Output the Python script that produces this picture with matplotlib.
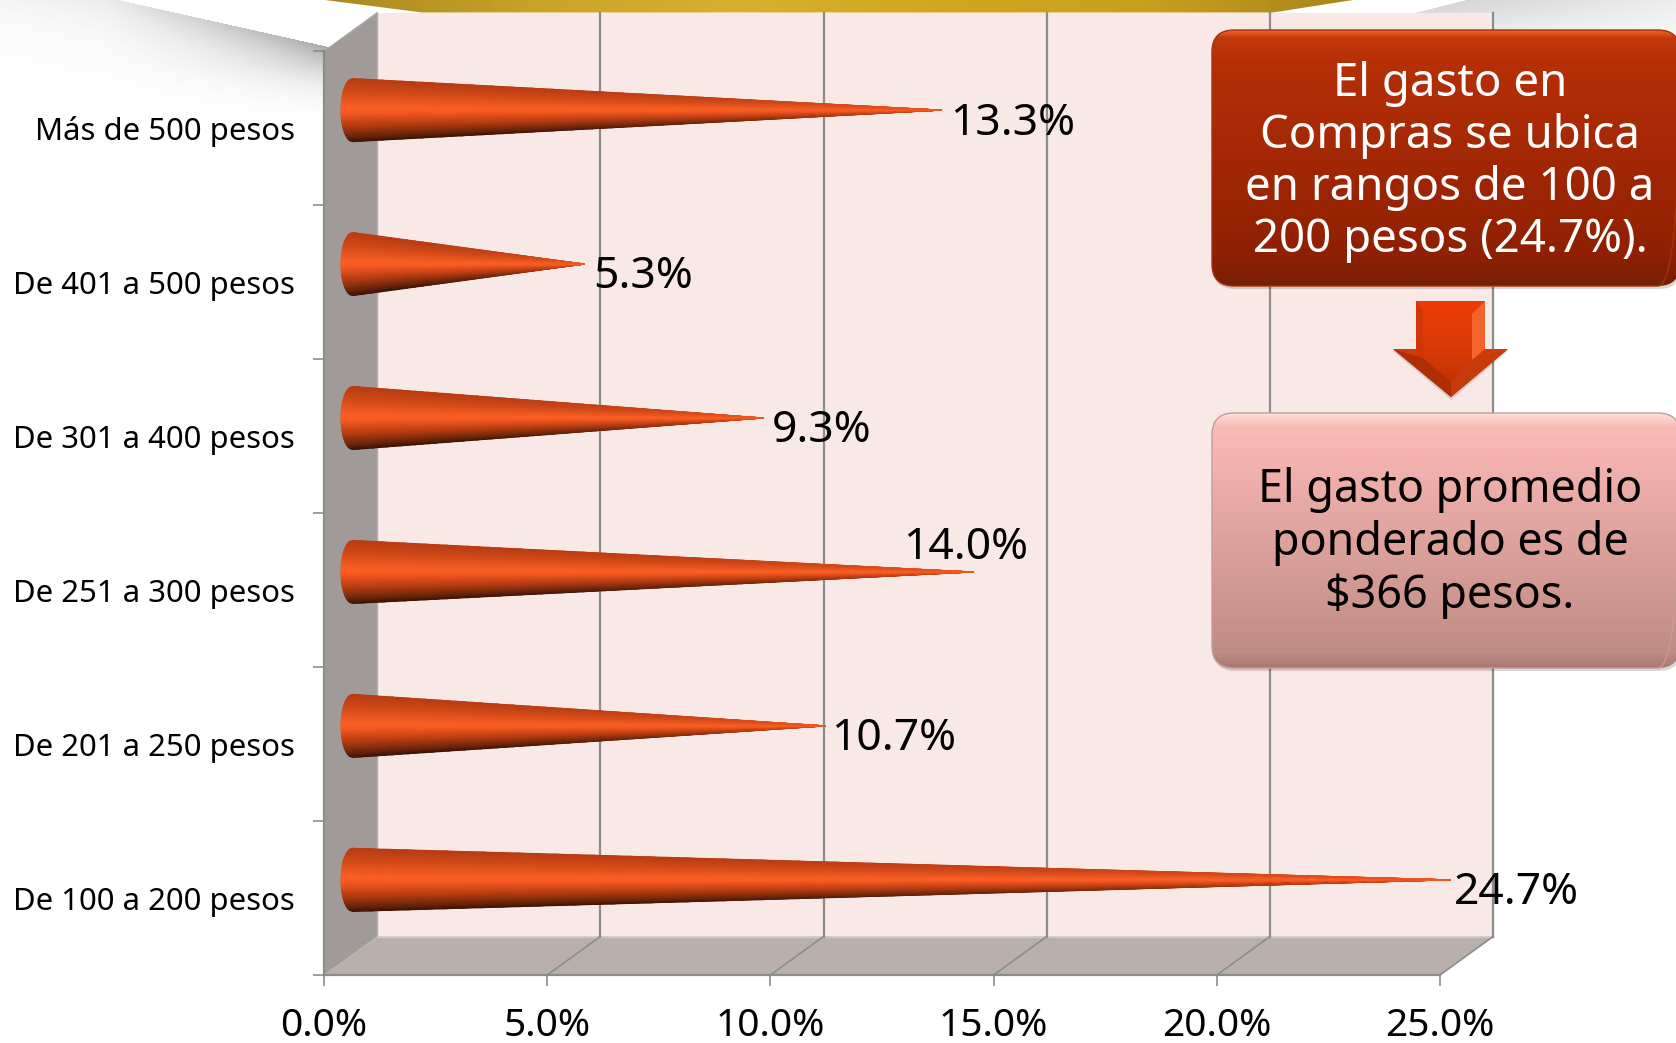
import numpy as np
import matplotlib
matplotlib.use("Agg")
import matplotlib.pyplot as plt
from matplotlib.colors import LinearSegmentedColormap
from matplotlib.patches import FancyBboxPatch, Polygon

categories = ["De 100 a 200 pesos", "De 201 a 250 pesos", "De 251 a 300 pesos",
              "De 301 a 400 pesos", "De 401 a 500 pesos", "Más de 500 pesos"]
values = [24.7, 10.7, 14.0, 9.3, 5.3, 13.3]
value_labels = ["24.7%", "10.7%", "14.0%", "9.3%", "5.3%", "13.3%"]
x_ticks = [0, 5, 10, 15, 20, 25]
x_tick_labels = ["0.0%", "5.0%", "10.0%", "15.0%", "20.0%", "25.0%"]
box1_text = "El gasto en\nCompras se ubica\nen rangos de 100 a\n200 pesos (24.7%)."
box2_text = "El gasto promedio\nponderado es de\n$366 pesos."

W, H = 1676, 1043
FONT = "Noto Sans"
plt.rcParams["font.family"] = [FONT, "DejaVu Sans"]
fig = plt.figure(figsize=(W / 100, H / 100), dpi=100, facecolor="white")

# ---- page decoration, in pixel coordinates
bg = fig.add_axes([0, 0, 1, 1], zorder=0)
bg.set_xlim(0, W); bg.set_ylim(H, 0); bg.axis("off")
yy, xx = np.mgrid[0:130, 0:W]
# left swoosh shadow
d = yy - (xx - 120) * (49 / 219)
a = np.where(d >= 0, 0.62 * np.exp(-d / 34), 0) * np.clip(xx / 340, 0.3, 1) ** 1.2 * np.clip((125 - yy) / 60, 0, 1)
a[xx > 345] = 0
img = np.ones((130, W, 4)); img[..., :3] = 0.42; img[..., 3] = a
bg.imshow(img, extent=(0, W, 130, 0), aspect="auto", zorder=1, interpolation="bilinear")
# right swoosh shadow
d2 = yy + (xx - 1464) * (13 / 53)
a2 = np.where(d2 >= 0, 1, 0) * (0.34 - 0.2 * np.clip((xx - 1440) / 236, 0, 1)) * np.clip(1 - yy / 60, 0, 1)
a2[(yy > 12) & (xx < 1493)] = 0
img2 = np.ones((130, W, 4)); img2[..., :3] = 0.5; img2[..., 3] = a2
bg.imshow(img2, extent=(0, W, 130, 0), aspect="auto", zorder=1, interpolation="bilinear")
bg.set_xlim(0, W); bg.set_ylim(H, 0)
# gold band
gold = LinearSegmentedColormap.from_list("g", ["#a88a1e", "#c9a228", "#d8b02e", "#d2a61c", "#c99f1c", "#a8841c"])
gi = bg.imshow(np.linspace(0, 1, 256)[None, :], extent=(325, 1353, 13, 0), aspect="auto", cmap=gold, zorder=2)
gp = Polygon([(325, 0), (1353, 0), (1273, 12.5), (422, 12.5)], closed=True, fc="none", ec="none", transform=bg.transData)
bg.add_patch(gp); gi.set_clip_path(gp)
bg.set_xlim(0, W); bg.set_ylim(H, 0)

# ---- chart, front plane of the box: 0..25 % and 0..6 categories
ax = fig.add_axes([324 / W, 1 - 975 / H, (1440 - 324) / W, (975 - 51.3) / H], zorder=1)
ax.patch.set_alpha(0)
ax.set_xlim(0, 25); ax.set_ylim(0, 6)
DX, DY = 1.19, 0.25
ax.add_patch(Polygon([(DX, DY), (25 + DX, DY), (25 + DX, 6 + DY), (DX, 6 + DY)], fc="#f8e9e7", ec="none", zorder=1, clip_on=False))
ax.add_patch(Polygon([(0, 0), (25, 0), (25 + DX, DY), (DX, DY)], fc="#b9afab", ec="none", zorder=1, clip_on=False))
ax.add_patch(Polygon([(0, 0), (DX, DY), (DX, 6 + DY), (0, 6)], fc="#a09a98", ec="none", zorder=1, clip_on=False))
GRID = "#8c8c8c"
ax.plot([DX, DX], [DY, 6 + DY], color="#b5b0ae", lw=1, zorder=2, clip_on=False)
ax.plot([DX, 25 + DX], [DY, DY], color="#cfc8c5", lw=1, zorder=2, clip_on=False)
ax.plot([0, DX], [6, 6 + DY], color="#a8a8a8", lw=1, zorder=2, clip_on=False)
for v in x_ticks[1:]:
    ax.plot([v + DX, v + DX], [DY, 6 + DY], color=GRID, lw=1.6, zorder=2, clip_on=False)
    ax.plot([v, v + DX], [0, DY], color=GRID, lw=1.2, zorder=2, clip_on=False)

cone_cmap = LinearSegmentedColormap.from_list("cone", [
    (0.0, "#3c1405"), (0.07, "#66240a"), (0.25, "#b53c12"), (0.47, "#f65a22"),
    (0.55, "#fa5f24"), (0.8, "#d24a18"), (1.0, "#b83c12")])
SHIFT_X, SHIFT_Y, HALF, BASE, BULGE = 0.54, 0.118, 0.205, 0.64, 0.26
for i, v in enumerate(values):
    t = np.linspace(0, 1, 60)[:, None]
    s = np.linspace(-1, 1, 61)[None, :]
    cy = i + 0.5 + SHIFT_Y
    tip = v + SHIFT_X
    X = BASE + (tip - BASE) * t - BULGE * (1 - t) * np.sqrt(np.clip(1 - s ** 2, 0, 1))
    Y = cy + HALF * (1 - t) * s
    C = 0.5 + (s / 2) * (1 - 0.75 * t ** 3)
    ax.pcolormesh(X, Y, C, cmap=cone_cmap, vmin=0, vmax=1, shading="gouraud", zorder=3, clip_on=False)

offsets = [(3, -13), (5, -13), (-70, 24), (8, -13), (8, -13), (8, -14)]
for i, (v, lab) in enumerate(zip(values, value_labels)):
    ax.annotate(lab, xy=(v + SHIFT_X, i + 0.5 + SHIFT_Y), xytext=(offsets[i][0] * 0.72, offsets[i][1] * 0.72),
                textcoords="offset points", ha="left", va="center", fontsize=32, color="black", zorder=6, annotation_clip=False)

for name in ["top", "right"]:
    ax.spines[name].set_visible(False)
for name in ["left", "bottom"]:
    ax.spines[name].set_color("#8c8c8c"); ax.spines[name].set_linewidth(1.6); ax.spines[name].set_zorder(2)
ax.set_xticks(x_ticks); ax.set_xticklabels(x_tick_labels, fontsize=28)
ax.tick_params(axis="x", length=7.7, width=1.2, color="#8c8c8c", pad=15)
ax.set_yticks(range(7)); ax.set_yticklabels([])
ax.set_yticks(np.arange(6) + 0.5, minor=True)
ax.set_yticklabels(categories, minor=True, fontsize=22.4, va="center_baseline")
ax.tick_params(axis="y", which="major", length=7.7, width=1.2, color="#8c8c8c")
ax.tick_params(axis="y", which="minor", length=0, pad=21)

# ---- callouts, in pixel coordinates
ov = fig.add_axes([0, 0, 1, 1], zorder=5)
ov.patch.set_alpha(0); ov.set_xlim(0, W); ov.set_ylim(H, 0); ov.axis("off")

def grad_box(x0, y0, x1, y1, stops, edge, rad=22):
    ov.add_patch(FancyBboxPatch((x0 + 1, y0 + 3), x1 - x0, y1 - y0, boxstyle=f"round,pad=0,rounding_size={rad}",
                                fc="#00000028", ec="none", zorder=1))
    cm = LinearSegmentedColormap.from_list("b", stops)
    im = ov.imshow(np.linspace(0, 1, 256)[:, None], extent=(x0, x1, y1, y0), aspect="auto", cmap=cm, zorder=2)
    p = FancyBboxPatch((x0, y0), x1 - x0, y1 - y0, boxstyle=f"round,pad=0,rounding_size={rad}", fc="none", ec=edge, lw=1, zorder=3)
    ov.add_patch(p); im.set_clip_path(p)

grad_box(1212, 30, 1680, 286, [(0, "#f0602a"), (0.03, "#c23a0c"), (0.12, "#b62f07"), (0.88, "#8f2003"), (1, "#761e06")], "#a8300a")
grad_box(1212, 413, 1680, 668, [(0, "#fde0da"), (0.05, "#f8bcb6"), (0.15, "#f6b4b0"), (0.94, "#c08c84"), (1, "#a87870")], "#c49c96")
ov.set_xlim(0, W); ov.set_ylim(H, 0)
ov.text(1450, 162, box1_text, color="white", fontsize=32.8, ha="center", va="center", linespacing=1.18, zorder=5)
ov.text(1450, 543, box2_text, color="black", fontsize=32.3, ha="center", va="center", linespacing=1.2, zorder=5)

# arrow
arrow_shadow = [(1416, 303), (1485, 303), (1485, 351), (1508, 351), (1451, 400), (1393, 351), (1416, 351)]
ov.add_patch(Polygon(arrow_shadow, fc="#00000022", ec="none", zorder=2))
arrow = [(1416, 301), (1485, 301), (1485, 349), (1508, 349), (1451, 397), (1393, 349), (1416, 349)]
ac = LinearSegmentedColormap.from_list("a", ["#ee3c06", "#d83a06", "#b83006"])
aim = ov.imshow(np.linspace(0, 1, 128)[:, None], extent=(1393, 1508, 397, 301), aspect="auto", cmap=ac, zorder=3)
ap = Polygon(arrow, fc="none", ec="none"); ov.add_patch(ap); aim.set_clip_path(ap)
ov.add_patch(Polygon([(1472, 314), (1485, 301), (1485, 349), (1472, 360)], fc="#f4642a", ec="none", zorder=4))
ov.add_patch(Polygon([(1416, 301), (1423, 310), (1423, 358), (1416, 349)], fc="#d03606", ec="none", zorder=4))
ov.add_patch(Polygon([(1451, 397), (1451, 382), (1472, 360), (1508, 349)], fc="#c43c0c", ec="none", zorder=4))
ov.add_patch(Polygon([(1451, 397), (1451, 382), (1423, 358), (1393, 349)], fc="#b02e06", ec="none", zorder=4))
ov.set_xlim(0, W); ov.set_ylim(H, 0)

fig.savefig("out.png", dpi=100)
